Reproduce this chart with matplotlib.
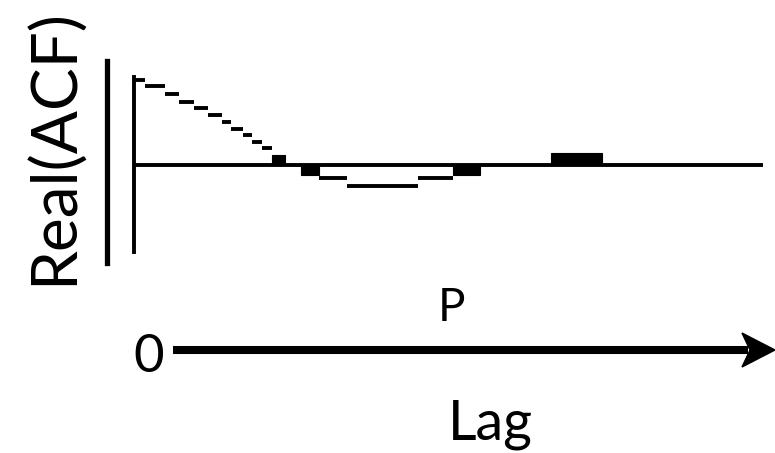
import matplotlib
matplotlib.use('Agg')
import matplotlib.pyplot as plt
from matplotlib.patches import Polygon
from matplotlib.lines import Line2D

plt.rcParams['font.family'] = ['Lato', 'DejaVu Sans']

# stepped ACF trace: horizontal pieces (lag start, lag end, level)
seg_start = [0.0, 1.1, 3.1, 4.5, 6.0, 7.4, 8.8, 9.7, 10.9, 11.8, 12.8, 18.5, 21.3, 28.4]
seg_end   = [1.1, 3.1, 4.5, 6.0, 7.4, 8.8, 9.7, 10.9, 11.8, 12.8, 13.8, 21.3, 28.4, 32.0]
seg_level = [1.0, 0.93, 0.835, 0.74, 0.67, 0.59, 0.505, 0.425, 0.355, 0.27, 0.20,
             -0.153, -0.247, -0.153]

# short lags where the trace sits as a solid block against zero
blob_start = [13.8, 16.7, 32.0, 41.8]
blob_width = [1.3, 1.8, 2.7, 5.1]
blob_level = [0.115, -0.115, -0.115, 0.14]

lag_max = 63.0

W, H = 775, 453
fig = plt.figure(figsize=(W / 100, H / 100), dpi=100)

# overlay in pixel units for labels and the lag arrow
ann = fig.add_axes([0, 0, 1, 1])
ann.set_xlim(0, W)
ann.set_ylim(H, 0)
ann.axis('off')

ax = fig.add_axes([134 / W, (H - 252) / H, (763 - 134) / W, (252 - 77) / H])
ax.set_xlim(0, lag_max)
ax.set_ylim(-1.025, 1.035)
for s in ['top', 'right', 'bottom']:
    ax.spines[s].set_visible(False)
ax.spines['left'].set_linewidth(2.8)
ax.set_xticks([])
ax.set_yticks([])
ax.patch.set_alpha(0)

ax.axhline(0, color='black', lw=2.8, solid_capstyle='butt')
ax.hlines(seg_level, seg_start, seg_end, color='black', lw=2.8)
ax.bar(blob_start, blob_level, width=blob_width, align='edge', color='black',
       edgecolor='black', linewidth=0.8)

# bar next to the y label
fig.add_artist(Line2D([107 / W, 107 / W], [(H - 61) / H, (H - 263) / H],
                      color='black', lw=3.8, transform=fig.transFigure))

ann.text(54, 147, 'Real(ACF)', rotation=90, fontsize=46, ha='center', va='center')
ann.text(452, 321, 'P', fontsize=33, ha='center', va='baseline')
ann.text(149, 357, '0', fontsize=38, ha='center', va='center')
ann.text(490, 440, 'Lag', fontsize=40, ha='center', va='baseline')

ann.plot([173, 748], [350, 350], color='black', lw=5.8, solid_capstyle='butt')
ann.add_patch(Polygon([(742, 333), (775, 350), (742, 367), (750, 350)],
                      closed=True, color='black'))

fig.savefig('out.png', dpi=100)
